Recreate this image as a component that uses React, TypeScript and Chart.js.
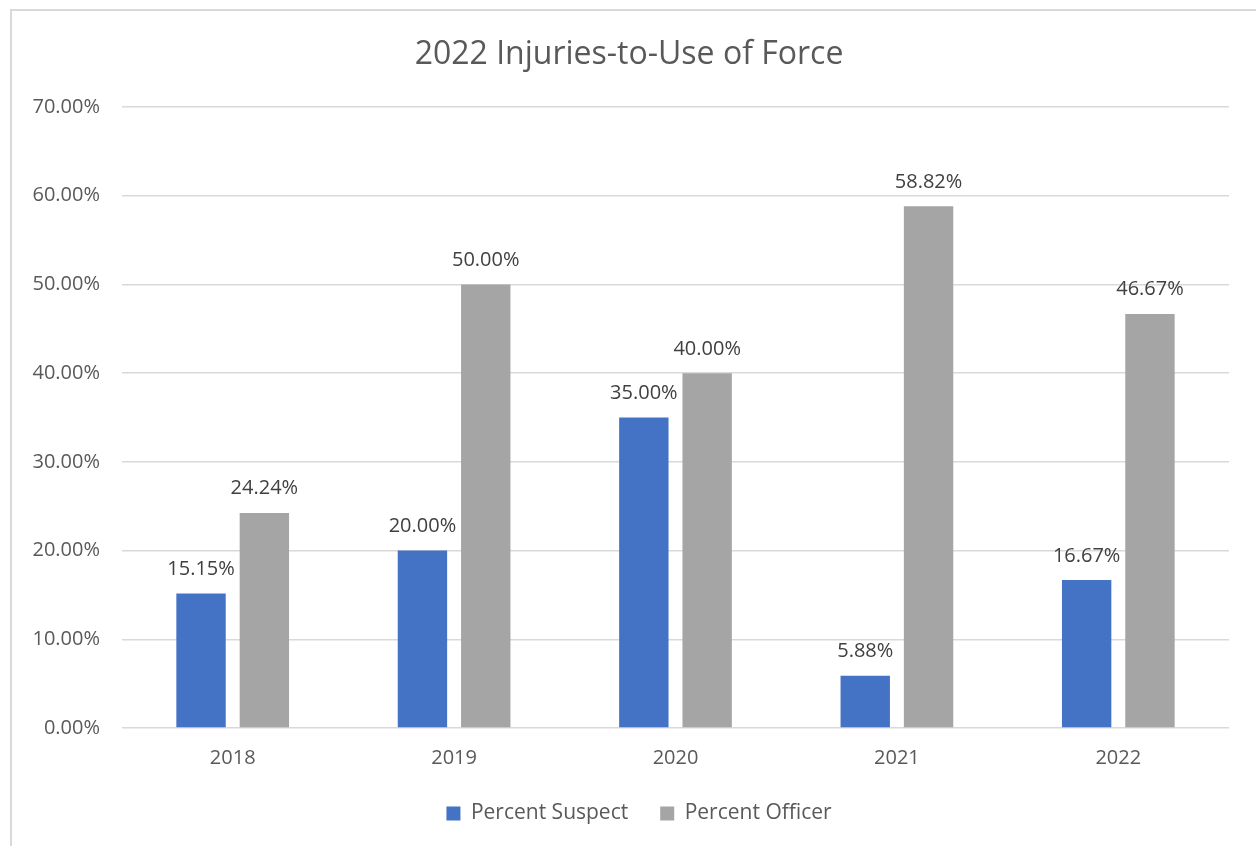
import React, { useEffect, useRef } from "react";
import { Chart, registerables } from "chart.js";

Chart.register(...registerables);

const categories = ["2018", "2019", "2020", "2021", "2022"];
const percentSuspect = [15.15, 20.0, 35.0, 5.88, 16.67];
const percentOfficer = [24.24, 50.0, 40.0, 58.82, 46.67];
const seriesNames = ["Percent Suspect", "Percent Officer"];
const chartTitle = "2022 Injuries-to-Use of Force";

const FONT = "'Open Sans', 'Liberation Sans', sans-serif";

const borderPlugin = {
  id: "outerBorder",
  beforeDraw(chart: any) {
    const ctx = chart.ctx;
    ctx.save();
    ctx.fillStyle = "#ffffff";
    ctx.fillRect(0, 0, chart.width, chart.height);
    ctx.strokeStyle = "#d9d9d9";
    ctx.lineWidth = 2;
    ctx.strokeRect(11, 10, 1400, 1000);
    ctx.restore();
  },
};

const legendShift = {
  id: "legendShift",
  afterLayout(chart: any) {
    const lg = chart.legend;
    if (lg) {
      lg.left += 10;
      lg.right += 10;
    }
  },
};

const dataLabels = {
  id: "dataLabels",
  afterDatasetsDraw(chart: any) {
    const ctx = chart.ctx;
    ctx.save();
    ctx.font = `20px ${FONT}`;
    ctx.fillStyle = "#404040";
    ctx.textAlign = "center";
    ctx.textBaseline = "alphabetic";
    chart.data.datasets.forEach((ds: any, i: number) => {
      const meta = chart.getDatasetMeta(i);
      meta.data.forEach((bar: any, j: number) => {
        const v = ds.data[j] as number;
        ctx.fillText(v.toFixed(2) + "%", bar.x, bar.y - 18.5);
      });
    });
    ctx.restore();
  },
};

export default function App() {
  const ref = useRef<HTMLCanvasElement | null>(null);
  useEffect(() => {
    if (!ref.current) return;
    const chart = new Chart(ref.current, {
      type: "bar",
      data: {
        labels: categories,
        datasets: [
          {
            label: seriesNames[0],
            data: percentSuspect,
            backgroundColor: "#4472C4",
            categoryPercentage: 0.572,
            barPercentage: 0.78,
          },
          {
            label: seriesNames[1],
            data: percentOfficer,
            backgroundColor: "#A5A5A5",
            categoryPercentage: 0.572,
            barPercentage: 0.78,
          },
        ],
      },
      options: {
        responsive: false,
        animation: false,
        layout: { padding: { left: 29, right: 27, top: 0, bottom: 12 } },
        plugins: {
          title: {
            display: true,
            text: chartTitle,
            color: "#595959",
            font: { family: FONT, size: 32, weight: "normal" },
            padding: { top: 36, bottom: 32.6 },
          },
          legend: {
            display: true,
            position: "bottom",
            labels: {
              boxWidth: 14,
              boxHeight: 14,
              padding: 32,
              color: "#595959",
              font: { family: FONT, size: 21 },
            },
          },
          tooltip: { enabled: false },
        },
        scales: {
          x: {
            grid: { display: false, drawTicks: false },
            border: { display: false },
            ticks: {
              color: "#595959",
              font: { family: FONT, size: 20 },
              padding: 18,
            },
            afterFit: (s: any) => {
              s.height = 43;
            },
          },
          y: {
            min: 0,
            max: 70,
            grid: { color: "#d9d9d9", lineWidth: 1.5, drawTicks: false },
            border: { display: false },
            ticks: {
              stepSize: 10,
              color: "#595959",
              font: { family: FONT, size: 20 },
              padding: 22,
              callback: (v: any) => Number(v).toFixed(2) + "%",
            },
            afterFit: (s: any) => {
              s.width = 93;
            },
          },
        },
      },
      plugins: [borderPlugin, legendShift, dataLabels],
    });
    return () => chart.destroy();
  }, []);
  return (
    <div style={{ position: "absolute", left: 0, top: 0, width: 1256, height: 846 }}>
      <canvas ref={ref} width={1256} height={846} style={{ display: "block" }} />
    </div>
  );
}
